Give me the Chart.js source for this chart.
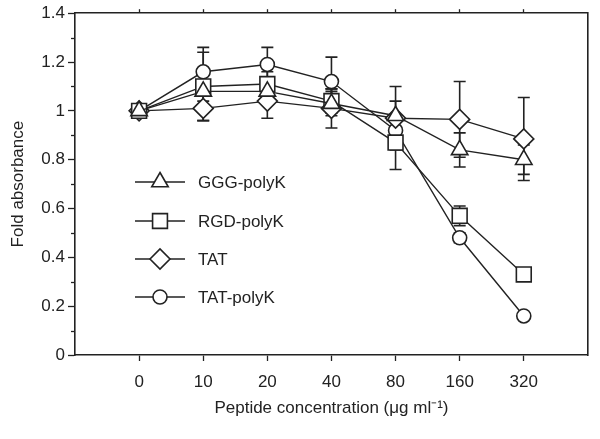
<!DOCTYPE html>
<html><head><meta charset="utf-8">
<script src="https://cdn.jsdelivr.net/npm/chart.js@4/dist/chart.umd.min.js"></script>
<style>html,body{margin:0;padding:0;background:#fff}#wrap{width:600px;height:439px}</style>
</head><body><div id="wrap"><canvas id="c" width="600" height="439"></canvas></div>
<script>
const concentrations = ['0','10','20','40','80','160','320'];
const seriesNames = ['GGG-polyK','RGD-polyK','TAT','TAT-polyK'];
const gggValues = [1.00, 1.08, 1.08, 1.03, 0.98, 0.84, 0.80];
const gggErrors = [0, 0.04, 0.05, 0.05, 0.06, 0.07, 0.06];
const rgdValues = [1.00, 1.10, 1.11, 1.04, 0.87, 0.57, 0.33];
const rgdErrors = [0, 0.14, 0.05, 0.05, 0.11, 0.04, 0];
const tatValues = [1.00, 1.01, 1.04, 1.01, 0.97, 0.965, 0.885];
const tatErrors = [0, 0.05, 0.07, 0.08, 0.13, 0.155, 0.17];
const tatpkValues = [1.00, 1.16, 1.19, 1.12, 0.92, 0.48, 0.16];
const tatpkErrors = [0, 0.10, 0.07, 0.10, 0.05, 0.02, 0];
const yTicks = [0, 0.2, 0.4, 0.6, 0.8, 1, 1.2, 1.4];

const INK = '#222';
const styles = [
  {pointStyle:'triangle', radius:9.5},
  {pointStyle:'rect', radius:10.5},
  {pointStyle:'rectRot', radius:10},
  {pointStyle:'circle', radius:7}
];
const allValues = [gggValues, rgdValues, tatValues, tatpkValues];
const allErrors = [gggErrors, rgdErrors, tatErrors, tatpkErrors];

function toPoints(vals){ return vals.map((v,i)=>({x:i, y:v})); }

const datasets = seriesNames.map((name,k)=>({
  label: name,
  data: toPoints(allValues[k]),
  errors: allErrors[k],
  borderColor: INK,
  borderWidth: 1.4,
  backgroundColor: '#fff',
  pointStyle: styles[k].pointStyle,
  pointRadius: styles[k].radius,
  pointBorderWidth: 1.6,
  pointBorderColor: INK,
  pointBackgroundColor: '#fff',
  tension: 0,
  clip: false
}));

function drawMarker(ctx, style, radius, x, y){
  if (Chart.helpers && Chart.helpers.drawPoint) {
    Chart.helpers.drawPoint(ctx, {pointStyle: style, radius: radius, rotation: 0, borderWidth: 1.6}, x, y);
  }
}

const FONT_FAMILY = '"Liberation Sans", Arial, sans-serif';

const errorBarPlugin = {
  id: 'errorBars',
  beforeDatasetsDraw(chart){
    const ctx = chart.ctx, xs = chart.scales.x, ys = chart.scales.y;
    ctx.save();
    ctx.strokeStyle = INK; ctx.lineWidth = 1.6;
    chart.data.datasets.forEach(ds=>{
      ds.data.forEach((p,i)=>{
        const e = ds.errors[i];
        if (!e) return;
        const px = xs.getPixelForValue(p.x);
        const yTop = ys.getPixelForValue(p.y + e), yBot = ys.getPixelForValue(p.y - e);
        ctx.beginPath();
        ctx.moveTo(px, yTop); ctx.lineTo(px, yBot);
        ctx.moveTo(px-6, yTop); ctx.lineTo(px+6, yTop);
        ctx.moveTo(px-6, yBot); ctx.lineTo(px+6, yBot);
        ctx.stroke();
      });
    });
    ctx.restore();
  },
  afterDraw(chart){
    const ctx = chart.ctx, ys = chart.scales.y;
    const left = chart.chartArea.left;
    ctx.save();
    ctx.strokeStyle = INK; ctx.lineWidth = 1.3;
    // minor ticks
    for (let k=0;k<yTicks.length-1;k++){
      const v = (yTicks[k]+yTicks[k+1])/2;
      const py = Math.round(ys.getPixelForValue(v))+0.5;
      ctx.beginPath(); ctx.moveTo(left-4, py); ctx.lineTo(left, py); ctx.stroke();
    }
    // legend
    const lx0 = 135, lx1 = 185, lmx = 160, ltx = 198;
    const lys = [182, 221, 259, 297];
    ctx.font = '17px ' + FONT_FAMILY;
    ctx.textBaseline = 'middle';
    seriesNames.forEach((name,k)=>{
      const y = lys[k];
      ctx.strokeStyle = INK; ctx.lineWidth = 1.4;
      ctx.beginPath(); ctx.moveTo(lx0, y); ctx.lineTo(lx1, y); ctx.stroke();
      ctx.fillStyle = '#fff'; ctx.strokeStyle = INK; ctx.lineWidth = 1.6;
      drawMarker(ctx, styles[k].pointStyle, styles[k].radius, lmx, y);
      ctx.fillStyle = INK;
      ctx.fillText(name, ltx, y + 1);
    });
    ctx.restore();
  }
};

const FONT = {family: FONT_FAMILY, size: 17};

new Chart(document.getElementById('c'), {
  type: 'line',
  data: { datasets },
  options: {
    responsive: false,
    animation: false,
    devicePixelRatio: 1,
    layout: { padding: 0 },
    plugins: { legend: {display:false}, tooltip: {enabled:false} },
    scales: {
      x: {
        type: 'linear', position: 'bottom', min: -1, max: 7,
        afterFit(s){ s.height = 84; },
        afterBuildTicks(s){ s.ticks = concentrations.map((c,i)=>({value:i})); },
        ticks: { color: INK, font: FONT, padding: 11, maxRotation: 0,
          callback: (v)=> concentrations[v] ?? '' },
        grid: { drawOnChartArea: false, tickLength: 6, tickColor: INK, tickWidth: 1.3 },
        border: { display: true, color: INK, width: 1.6 },
        title: { display: true, text: 'Peptide concentration (μg ml⁻¹)', color: INK, font: FONT, padding: {top: 20, bottom: 20} }
      },
      x2: {
        type: 'linear', position: 'top', min: -1, max: 7,
        afterFit(s){ s.height = 13; },
        afterBuildTicks(s){ s.ticks = concentrations.map((c,i)=>({value:i})); },
        ticks: { display: false },
        grid: { drawOnChartArea: false, tickLength: 4, tickColor: INK, tickWidth: 1.3 },
        border: { display: true, color: INK, width: 1.6 }
      },
      y: {
        type: 'linear', position: 'left', min: 0, max: 1.4,
        afterFit(s){ s.width = 75; },
        afterBuildTicks(s){ s.ticks = yTicks.map(v=>({value:v})); },
        ticks: { color: INK, font: FONT, padding: 3,
          callback: (v)=> String(Math.round(v*10)/10) },
        grid: { drawOnChartArea: false, tickLength: 7, tickColor: INK, tickWidth: 1.3 },
        border: { display: true, color: INK, width: 1.6 },
        title: { display: true, text: 'Fold absorbance', color: INK, font: FONT, padding: {top: 8, bottom: 8} }
      },
      y2: {
        type: 'linear', position: 'right', min: 0, max: 1.4,
        afterFit(s){ s.width = 12; },
        ticks: { display: false },
        grid: { display: false },
        border: { display: true, color: INK, width: 1.6 }
      }
    }
  },
  plugins: [errorBarPlugin]
});
</script></body></html>
